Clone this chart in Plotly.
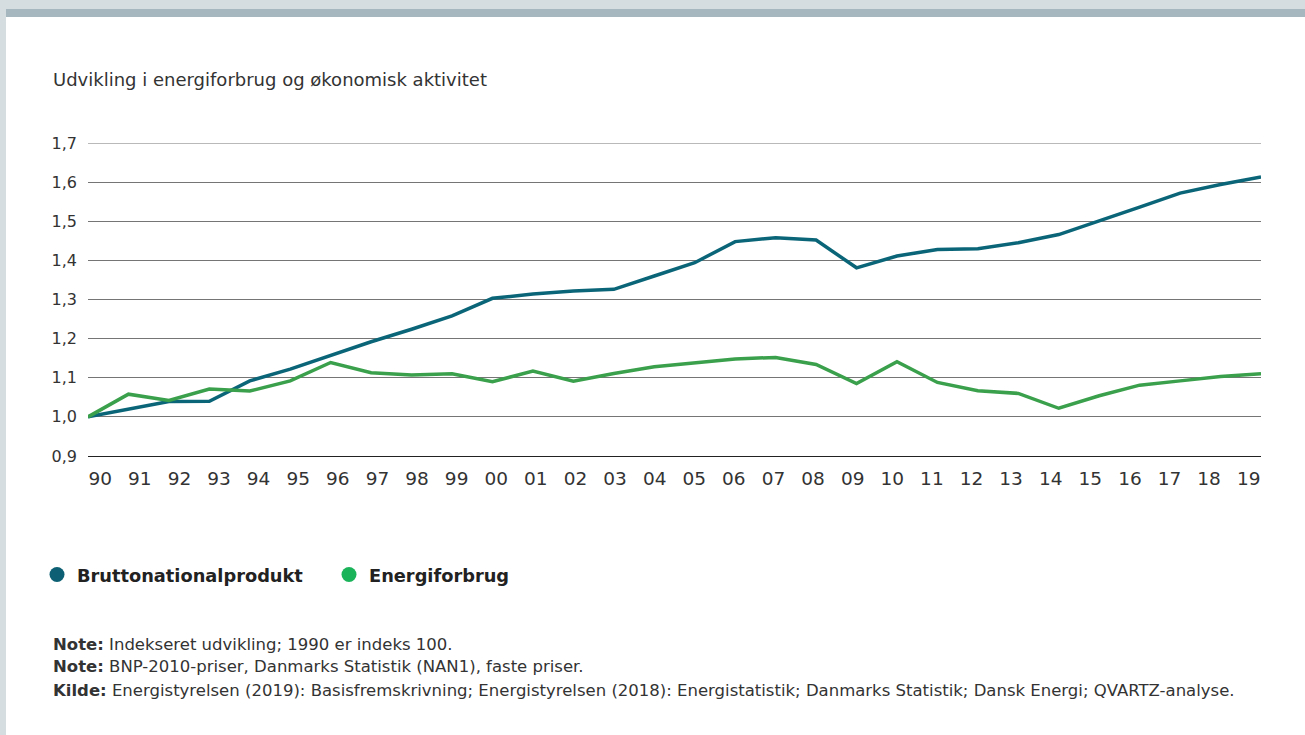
import plotly.graph_objects as go

years = list(range(1990, 2020))
year_labels = ["90", "91", "92", "93", "94", "95", "96", "97", "98", "99",
               "00", "01", "02", "03", "04", "05", "06", "07", "08", "09",
               "10", "11", "12", "13", "14", "15", "16", "17", "18", "19"]

bnp = [1.000, 1.020, 1.039, 1.040, 1.092, 1.122, 1.158, 1.192, 1.224, 1.258,
       1.303, 1.314, 1.322, 1.326, 1.360, 1.394, 1.448, 1.458, 1.452, 1.381,
       1.411, 1.428, 1.430, 1.445, 1.466, 1.500, 1.536, 1.572, 1.594, 1.613]

energi = [1.000, 1.058, 1.042, 1.071, 1.066, 1.092, 1.139, 1.113, 1.107, 1.110,
          1.090, 1.117, 1.091, 1.111, 1.128, 1.139, 1.148, 1.152, 1.134, 1.085,
          1.141, 1.088, 1.067, 1.060, 1.022, 1.054, 1.081, 1.092, 1.103, 1.110]

y_ticks = [0.9, 1.0, 1.1, 1.2, 1.3, 1.4, 1.5, 1.6, 1.7]

BLUE = "#0b6578"
GREEN = "#3aa04b"
FONT = "DejaVu Sans"
GRID = "#757575"
W, H = 1305, 735
L, R, T, B = 88, 44, 143, 279

fig = go.Figure()

fig.add_trace(go.Scatter(x=years, y=bnp, mode="lines", line=dict(color=BLUE, width=3.5),
                         showlegend=False, name="Bruttonationalprodukt"))
fig.add_trace(go.Scatter(x=years, y=energi, mode="lines", line=dict(color=GREEN, width=3.5),
                         showlegend=False, name="Energiforbrug"))

# legend entries (dots only)
fig.add_trace(go.Scatter(x=[None], y=[None], mode="markers", name="Bruttonationalprodukt",
                         marker=dict(color="#0d6073", size=15)))
fig.add_trace(go.Scatter(x=[None], y=[None], mode="markers", name="Energiforbrug",
                         marker=dict(color="#1bb35a", size=15)))

# helper trace so the label axis gets drawn
fig.add_trace(go.Scatter(x=[0], y=[None], xaxis="x2", showlegend=False, hoverinfo="skip"))

pw = W - L - R
ph = H - T - B


def px_x(x):
    return (x - L) / pw


def px_y(y):
    return (H - B - y) / ph


# page frame strips
frame = [
    (0, 0, W, 9, "#d6dde0"),
    (6, 9, W, 17, "#a7b7bf"),
    (0, 0, 6, H, "#d6dde0"),
]
for x0, y0, x1, y1, c in frame:
    fig.add_shape(type="rect", xref="paper", yref="paper",
                  x0=px_x(x0), x1=px_x(x1), y0=px_y(y1), y1=px_y(y0),
                  fillcolor=c, line_width=0, layer="below")

# top gridline sits on the range edge
fig.add_shape(type="line", xref="paper", yref="y", x0=0, x1=1, y0=1.7, y1=1.7,
              line=dict(color=GRID, width=1))

fig.add_annotation(text="Udvikling i energiforbrug og økonomisk aktivitet",
                   xref="paper", yref="paper", x=px_x(51), y=px_y(80),
                   xanchor="left", yanchor="middle", showarrow=False,
                   font=dict(family=FONT, size=18, color="#333333"))

notes = [
    ("Note:", "Indekseret udvikling; 1990 er indeks 100.", 644),
    ("Note:", "BNP-2010-priser, Danmarks Statistik (NAN1), faste priser.", 666),
    ("Kilde:", "Energistyrelsen (2019): Basisfremskrivning; Energistyrelsen (2018): "
               "Energistatistik; Danmarks Statistik; Dansk Energi; QVARTZ-analyse.", 690),
]
for head, body, ypos in notes:
    fig.add_annotation(text=f"<b>{head}</b> {body}", xref="paper", yref="paper",
                       x=px_x(51), y=px_y(ypos), xanchor="left", yanchor="middle",
                       showarrow=False, font=dict(family=FONT, size=16.5, color="#333333"))

fig.update_layout(
    width=W, height=H,
    margin=dict(l=L, r=R, t=T, b=B),
    paper_bgcolor="white",
    plot_bgcolor="white",
    separators=", ",
    font=dict(family=FONT, color="#333333"),
    showlegend=True,
    legend=dict(orientation="h", x=px_x(37), y=px_y(575), xanchor="left", yanchor="middle",
                font=dict(family=FONT, size=17.8, color="#222222", weight="bold"),
                entrywidth=247, entrywidthmode="pixels", bgcolor="rgba(0,0,0,0)"),
    xaxis=dict(range=[1990, 2019], showgrid=False, zeroline=False, showticklabels=False,
               showline=True, linecolor="#222222", linewidth=1.2),
    xaxis2=dict(overlaying="x", side="bottom", range=[-0.308, 29.31],
                tickvals=list(range(len(year_labels))), ticktext=year_labels,
                showgrid=False, zeroline=False, showline=False, ticks="",
                ticklabelstandoff=9,
                tickfont=dict(family=FONT, size=18.5, color="#333333")),
    yaxis=dict(range=[0.9, 1.7], tickvals=y_ticks, tickformat=".1f",
               showgrid=True, gridcolor=GRID, gridwidth=1, zeroline=False,
               ticks="", ticklabelstandoff=10,
               tickfont=dict(family=FONT, size=16, color="#333333")),
)

fig.write_html("out.html", config={"displayModeBar": False},
               post_script="document.body.style.margin='0';")
